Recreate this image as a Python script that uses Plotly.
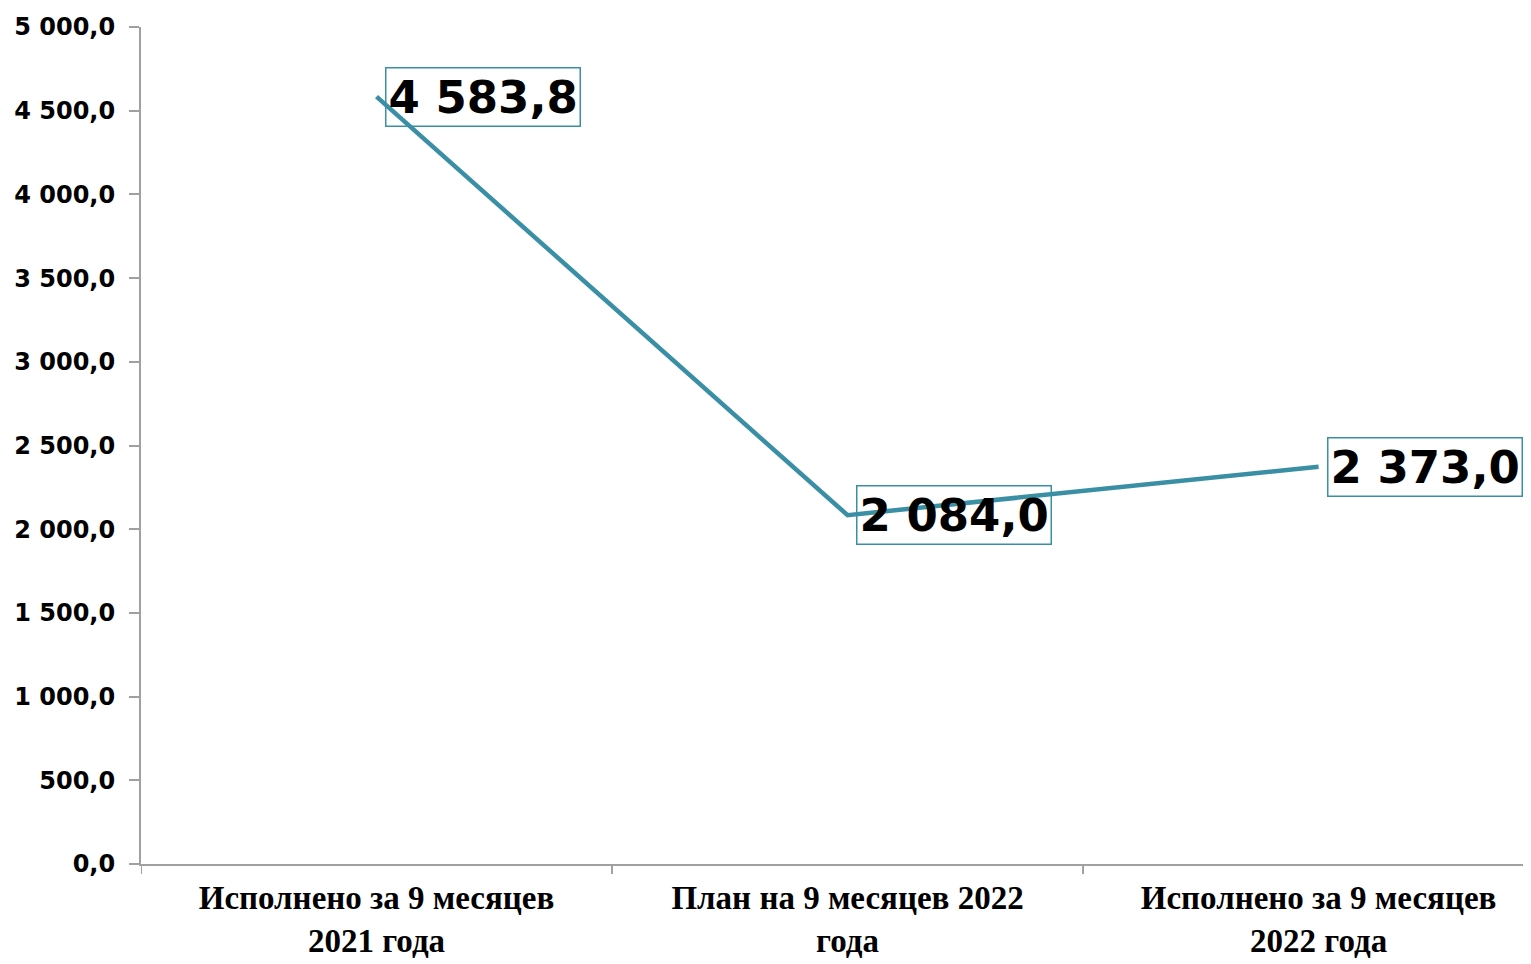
import plotly.graph_objects as go

categories = ["Исполнено за 9 месяцев<br>2021 года",
              "План на 9 месяцев 2022<br>года",
              "Исполнено за 9 месяцев<br>2022 года"]
values = [4583.8, 2084.0, 2373.0]
label_texts = ["4 583,8", "2 084,0", "2 373,0"]
y_tickvals = [0, 500, 1000, 1500, 2000, 2500, 3000, 3500, 4000, 4500, 5000]
y_ticktext = ["0,0", "500,0", "1 000,0", "1 500,0", "2 000,0", "2 500,0",
              "3 000,0", "3 500,0", "4 000,0", "4 500,0", "5 000,0"]

TEAL = "#3A8FA5"
AXIS = "#A0A0A0"

fig = go.Figure()
fig.add_trace(go.Scatter(
    x=list(range(len(categories))), y=values, mode="lines",
    line=dict(color=TEAL, width=4.5), hoverinfo="skip", showlegend=False))

for i, (v, t) in enumerate(zip(values, label_texts)):
    fig.add_annotation(
        x=i, y=v, xref="x", yref="y", text=t, showarrow=False,
        xanchor="left", yanchor="middle", xshift=8,
        font=dict(family="DejaVu Sans", size=45, color="black", weight="bold"),
        bordercolor=TEAL, borderwidth=1.5, borderpad=2,
        bgcolor="rgba(0,0,0,0)")

fig.update_layout(
    width=1523, height=956,
    margin=dict(l=133, r=0, t=19, b=100),
    paper_bgcolor="white", plot_bgcolor="white",
    xaxis=dict(
        tickmode="array", tickvals=list(range(len(categories))), ticktext=categories,
        range=[-0.5, 2.451], showgrid=False, zeroline=False,
        showline=True, linecolor=AXIS, linewidth=2, automargin=False,
        ticks="", ticklabelstandoff=3,
        tickfont=dict(family="Liberation Serif", size=33, color="black", weight="bold"),
    ),
    yaxis=dict(
        range=[0, 5000], tickmode="array", tickvals=y_tickvals, ticktext=y_ticktext,
        showgrid=False, zeroline=False, showline=True, linecolor=AXIS, linewidth=2,
        ticks="outside", ticklen=10, tickcolor=AXIS, tickwidth=2, automargin=False,
        ticklabelstandoff=9,
        tickfont=dict(family="DejaVu Sans", size=24, color="black", weight="bold"),
    ),
)

# category boundary tick marks on x axis
for b in [-0.5, 0.5, 1.5]:
    fig.add_shape(type="line", xref="x", yref="paper", x0=b, x1=b, y0=0, y1=-0.012,
                  line=dict(color=AXIS, width=2))

fig.write_html("out.html")
